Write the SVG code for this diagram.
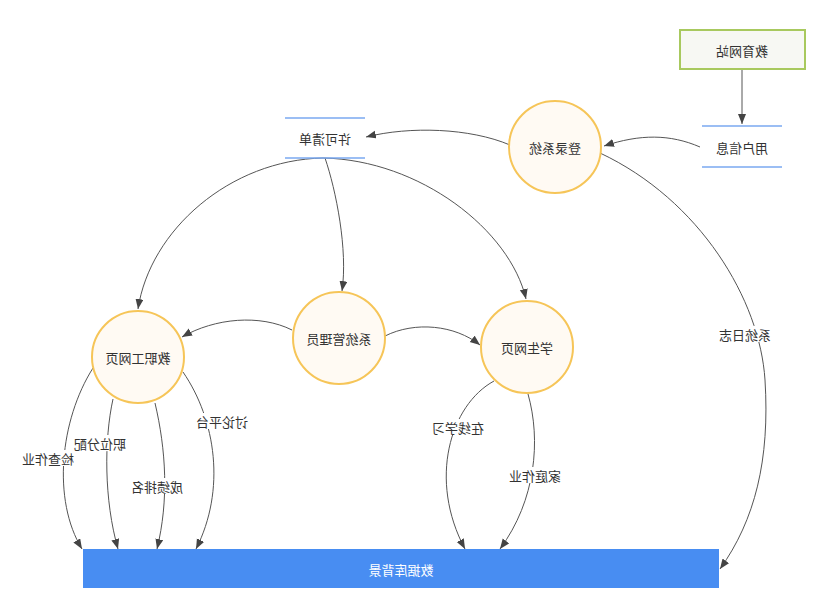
<svg xmlns="http://www.w3.org/2000/svg" width="837" height="603" viewBox="0 0 837 603">
<style>
.t{font-family:"Noto Sans CJK SC","Liberation Sans",sans-serif;font-size:13px;fill:#333;text-anchor:middle;dominant-baseline:central}
.w{fill:#fff}
.c{fill:#fffaf3;stroke:#f6c558;stroke-width:2}
.e{fill:none;stroke:#555;stroke-width:1;marker-end:url(#a)}
.ds{stroke:#7aa8f0;stroke-width:1.3}
.bg{fill:#fff}
</style>
<defs>
<marker id="a" markerUnits="userSpaceOnUse" markerWidth="11" markerHeight="9" refX="10" refY="4" orient="auto">
<path d="M0,0 L10,4 L0,8 z" fill="#444"/>
</marker>
</defs>
<rect width="837" height="603" fill="#fff"/>
<g id="connectors">
<path class="e" d="M742,70 L742,124"/>
<path class="e" d="M700,147 C670,134 640,134 604,146"/>
<path class="e" d="M510,145 C470,128 410,126 366,137"/>
<path class="e" d="M323,158 C230,160 150,230 138,309"/>
<path class="e" d="M325,158 C336,190 348,250 342,291"/>
<path class="e" d="M323,158 C420,160 510,230 526,299"/>
<path class="e" d="M292,330 C260,314 215,318 182,337"/>
<path class="e" d="M385,336 C415,321 455,325 480,345"/>
<path class="e" d="M600,153 C700,200 760,300 765,380 C770,460 755,520 720,569"/>
<path class="e" d="M93,368 C60,420 52,500 82,549"/>
<path class="e" d="M113,399 C104,440 104,500 118,549"/>
<path class="e" d="M155,403 C166,450 169,500 157,549"/>
<path class="e" d="M183,372 C216,420 226,490 196,549"/>
<path class="e" d="M494,381 C450,405 428,480 465,549"/>
<path class="e" d="M528,394 C541,440 536,500 500,549"/>
<rect class="bg" x="21" y="450" width="54" height="16"/>
<text class="t" x="48" y="458" transform="matrix(-1 0 0 1 96 0)">检查作业</text>
<rect class="bg" x="73" y="435" width="54" height="16"/>
<text class="t" x="100" y="443" transform="matrix(-1 0 0 1 200 0)">职位分配</text>
<rect class="bg" x="130" y="478" width="54" height="16"/>
<text class="t" x="157" y="486" transform="matrix(-1 0 0 1 314 0)">成绩排名</text>
<rect class="bg" x="195" y="413" width="54" height="16"/>
<text class="t" x="222" y="421" transform="matrix(-1 0 0 1 444 0)">讨论平台</text>
<rect class="bg" x="431" y="419" width="54" height="16"/>
<text class="t" x="458" y="427" transform="matrix(-1 0 0 1 916 0)">在线学习</text>
<rect class="bg" x="508" y="467" width="54" height="16"/>
<text class="t" x="535" y="475" transform="matrix(-1 0 0 1 1070 0)">家庭作业</text>
<rect class="bg" x="718" y="326" width="54" height="16"/>
<text class="t" x="745" y="334" transform="matrix(-1 0 0 1 1490 0)">系统日志</text>
</g>
<g id="edu">
<rect x="680" y="30" width="125" height="39" fill="#f7f8f3" stroke="#a8c95e" stroke-width="2"/>
<text class="t" x="742" y="50" transform="matrix(-1 0 0 1 1484 0)">教育网站</text>
</g>
<g id="userinfo">
<line class="ds" x1="702" y1="126" x2="782" y2="126"/>
<line class="ds" x1="702" y1="167" x2="782" y2="167"/>
<text class="t" x="742" y="147" transform="matrix(-1 0 0 1 1484 0)">用户信息</text>
</g>
<g id="permit">
<line class="ds" x1="285" y1="118" x2="365" y2="118"/>
<line class="ds" x1="285" y1="158" x2="365" y2="158"/>
<text class="t" x="325" y="138" transform="matrix(-1 0 0 1 650 0)">许可清单</text>
</g>
<g id="login">
<circle class="c" cx="555" cy="147" r="46"/>
<text class="t" x="555" y="147" transform="matrix(-1 0 0 1 1110 0)">登录系统</text>
</g>
<g id="staff">
<circle class="c" cx="138" cy="357" r="46"/>
<text class="t" x="138" y="357" transform="matrix(-1 0 0 1 276 0)">教职工网页</text>
</g>
<g id="admin">
<circle class="c" cx="339" cy="338" r="46"/>
<text class="t" x="339" y="338" transform="matrix(-1 0 0 1 678 0)">系统管理员</text>
</g>
<g id="student">
<circle class="c" cx="527" cy="347" r="46"/>
<text class="t" x="527" y="347" transform="matrix(-1 0 0 1 1054 0)">学生网页</text>
</g>
<g id="db">
<rect x="83" y="549" width="636" height="39" fill="#488df2"/>
<text class="t" x="401" y="569" style="fill:#fff" transform="matrix(-1 0 0 1 802 0)">数据库背景</text>
</g>
</svg>
